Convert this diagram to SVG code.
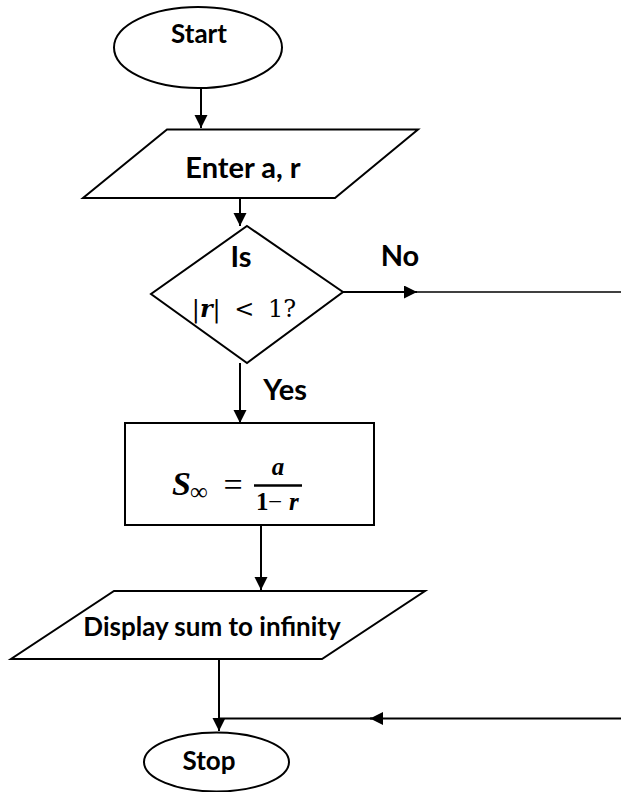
<svg xmlns="http://www.w3.org/2000/svg" width="621" height="792" viewBox="0 0 621 792">
<style>
.s{fill:#fff;stroke:#000;stroke-width:2}
.t{font-family:Lato,"Liberation Sans",sans-serif;font-weight:bold;font-size:26px;fill:#000;text-anchor:middle}
.b{font-size:29px}
.m{font-family:"Liberation Serif","DejaVu Serif",serif;fill:#000}
.d{font-family:"DejaVu Serif","Liberation Serif",serif;fill:#000}
.c{fill:none;stroke:#000;stroke-width:2}
.c1{fill:none;stroke:#000;stroke-width:1.3}
</style>
<defs>
<marker id="ah" markerWidth="14" markerHeight="14" refX="13" refY="6.5" orient="auto" markerUnits="userSpaceOnUse">
<path d="M0,0 L13,6.5 L0,13 Z" fill="#000"/>
</marker>
</defs>
<rect width="621" height="792" fill="#fff"/>
<g id="connectors">
<line class="c" x1="201" y1="88" x2="201" y2="128" marker-end="url(#ah)"/>
<line class="c" x1="240" y1="198" x2="240" y2="226" marker-end="url(#ah)"/>
<line class="c" x1="343" y1="292" x2="417" y2="292" marker-end="url(#ah)"/>
<line class="c1" x1="417" y1="292" x2="621" y2="292"/>
<line class="c" x1="240" y1="363" x2="240" y2="423" marker-end="url(#ah)"/>
<line class="c" x1="261" y1="525" x2="261" y2="590" marker-end="url(#ah)"/>
<line class="c" x1="219" y1="659" x2="219" y2="731" marker-end="url(#ah)"/>
<line class="c" x1="621" y1="718.5" x2="370" y2="718.5" marker-end="url(#ah)"/>
<line class="c" x1="372" y1="718.5" x2="219" y2="718.5"/>
<text class="t b" x="400" y="266">No</text>
<text class="t b" x="285" y="400">Yes</text>
</g>
<g id="start">
<ellipse class="s" cx="198" cy="47.5" rx="84" ry="40.5"/>
<text class="t" x="199" y="43">Start</text>
</g>
<g id="enter">
<polygon class="s" points="167,129.5 418,129.5 335,198 83,198"/>
<text class="t b" x="243" y="178">Enter a, r</text>
</g>
<g id="decision">
<polygon class="s" points="247,226 343,292 247,363 151,294"/>
<text class="t b" x="241" y="267">Is</text>
<text class="d" x="244" y="317" font-size="24" word-spacing="6" text-anchor="middle">|<tspan font-weight="bold" font-style="italic">r</tspan>| &lt; 1?</text>
</g>
<g id="compute">
<rect class="s" x="125" y="423" width="249" height="102"/>
<text class="m" x="172" y="495" font-size="34" font-weight="bold" font-style="italic">S</text>
<text class="m" x="190" y="500" font-size="25">∞</text>
<text class="m" x="233" y="496" font-size="34" text-anchor="middle">=</text>
<text class="m" x="278" y="475" font-size="25" font-weight="bold" font-style="italic" text-anchor="middle">a</text>
<line x1="254" y1="485.5" x2="302" y2="485.5" stroke="#000" stroke-width="2.5"/>
<text class="m" x="256" y="510" font-size="25" font-weight="bold">1</text>
<text class="m" x="268" y="510" font-size="25">−</text>
<text class="m" x="289" y="510" font-size="25" font-weight="bold" font-style="italic">r</text>
</g>
<g id="display">
<polygon class="s" points="114,591 425,591 322,659 11,659"/>
<text class="t" x="212" y="636" font-size="25.5">Display sum to infinity</text>
</g>
<g id="stop">
<ellipse class="s" cx="216.5" cy="762" rx="72.5" ry="29.5"/>
<text class="t" x="209" y="770">Stop</text>
</g>
</svg>
